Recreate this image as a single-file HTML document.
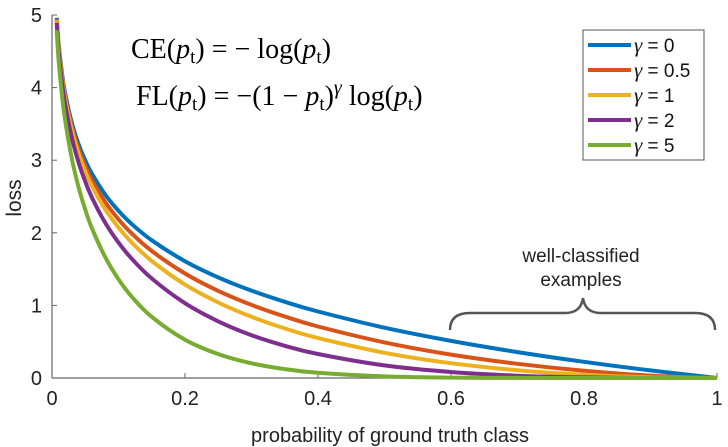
<!DOCTYPE html>
<html><head><meta charset="utf-8"><style>
body{margin:0;background:#fff;}
svg{display:block;font-family:"Liberation Sans",sans-serif;}
.eq{font-family:"Liberation Serif",serif;font-size:28px;fill:#000;}
</style></head><body>
<svg id="chart" width="728" height="447" viewBox="0 0 728 447">
<g id="axes"></g>
<g id="series"></g>
<text class="eq" x="131" y="58">CE(<tspan font-style="italic">p</tspan><tspan font-size="19" dy="5">t</tspan><tspan dy="-5">) = − log(</tspan><tspan font-style="italic">p</tspan><tspan font-size="19" dy="5">t</tspan><tspan dy="-5">)</tspan></text>
<text class="eq" x="136" y="105">FL(<tspan font-style="italic">p</tspan><tspan font-size="19" dy="5">t</tspan><tspan dy="-5">) = −(1 − </tspan><tspan font-style="italic">p</tspan><tspan font-size="19" dy="5">t</tspan><tspan dy="-5">)</tspan><tspan font-style="italic" font-size="20" dy="-11">γ</tspan><tspan dy="11"> log(</tspan><tspan font-style="italic">p</tspan><tspan font-size="19" dy="5">t</tspan><tspan dy="-5">)</tspan></text>
<g>
<text x="581" y="262" font-size="19" text-anchor="middle" fill="#222">well-classified</text>
<text x="581" y="286" font-size="19" text-anchor="middle" fill="#222">examples</text>
<path d="M450 330 Q450 313 470 313 L565 313 Q581 313 583 298 Q585 313 601 313 L695 313 Q715 313 715 330" fill="none" stroke="#555" stroke-width="2.5"/>
</g>
<g id="legend"></g>
</svg>
<script>
const pValues=[0.007,0.01,0.015,0.02,0.03,0.04,0.05,0.06,0.08,0.1,0.12,0.15,0.2,0.25,0.3,0.35,0.4,0.5,0.6,0.7,0.8,0.9,1.0];
const lossG0=[4.962,4.605,4.200,3.912,3.507,3.219,2.996,2.813,2.526,2.303,2.120,1.897,1.609,1.386,1.204,1.050,0.916,0.693,0.511,0.357,0.223,0.105,0];
const lossG05=[4.945,4.582,4.168,3.873,3.454,3.154,2.920,2.727,2.423,2.185,1.989,1.749,1.439,1.200,1.007,0.847,0.710,0.490,0.323,0.196,0.100,0.033,0];
const lossG1=[4.927,4.559,4.137,3.834,3.402,3.090,2.846,2.644,2.324,2.073,1.866,1.612,1.287,1.040,0.843,0.683,0.550,0.347,0.204,0.107,0.045,0.011,0];
const lossG2=[4.893,4.513,4.075,3.757,3.300,2.967,2.704,2.486,2.138,1.865,1.642,1.371,1.030,0.780,0.590,0.444,0.330,0.173,0.082,0.032,0.009,0.001,0];
const lossG5=[4.791,4.379,3.893,3.536,3.011,2.625,2.318,2.064,1.665,1.360,1.119,0.842,0.527,0.329,0.202,0.122,0.071,0.022,0.005,0.001,0,0,0];
const seriesLabels=["0","0.5","1","2","5"];
const xTicks=["0","0.2","0.4","0.6","0.8","1"];
const yTicks=["0","1","2","3","4","5"];
const NS="http://www.w3.org/2000/svg";
const X0=52,X1=717,Y0=378,Y1=15;
const xs=v=>X0+(X1-X0)*v, ys=v=>Y0-(Y0-Y1)*v/5;
function mk(t,a,p){const e=document.createElementNS(NS,t);for(const k in a)e.setAttribute(k,a[k]);p.appendChild(e);return e;}
function smooth(P){let d='M'+P[0][0].toFixed(1)+' '+P[0][1].toFixed(1);
 for(let i=0;i<P.length-1;i++){const p0=P[Math.max(i-1,0)],p1=P[i],p2=P[i+1],p3=P[Math.min(i+2,P.length-1)];
  const c1=[p1[0]+(p2[0]-p0[0])/6,p1[1]+(p2[1]-p0[1])/6],c2=[p2[0]-(p3[0]-p1[0])/6,p2[1]-(p3[1]-p1[1])/6];
  d+=' C'+c1.map(v=>v.toFixed(1)).join(' ')+' '+c2.map(v=>v.toFixed(1)).join(' ')+' '+p2.map(v=>v.toFixed(1)).join(' ');}
 return d;}
const axes=document.getElementById('axes');
let l=mk('line',{x1:X0,y1:Y0,x2:X1,y2:Y0,stroke:'#666','stroke-width':1.2},axes);


l=mk('line',{x1:X0,y1:Y0,x2:X0,y2:Y1,stroke:'#666','stroke-width':1.2},axes);


xTicks.forEach(t=>{const v=parseFloat(t);
 const tk=mk('line',{x1:xs(v),y1:Y0,x2:xs(v),y2:Y0-5,stroke:'#666'},axes);
 
 
 const e=mk('text',{x:xs(v),y:Y0+27,'font-size':20,'text-anchor':'middle',fill:'#222'},axes);e.textContent=t;
 
 });
yTicks.forEach(t=>{const v=parseFloat(t);
 const tk=mk('line',{x1:X0,y1:ys(v),x2:X0+5,y2:ys(v),stroke:'#666'},axes);
 
 
 const e=mk('text',{x:X0-10,y:ys(v)+7,'font-size':20,'text-anchor':'end',fill:'#222'},axes);e.textContent=t;
 
 });
let e=mk('text',{x:390,y:442,'font-size':20,'text-anchor':'middle',fill:'#222'},axes);e.textContent='probability of ground truth class';


e=mk('text',{x:0,y:0,'font-size':21,'text-anchor':'middle',fill:'#222',transform:'translate(21,198) rotate(-90)'},axes);e.textContent='loss';


const data=[lossG0,lossG05,lossG1,lossG2,lossG5];
const colors=['#0072BD','#D95319','#EDB120','#7E2F8E','#77AC30'];
const sg=document.getElementById('series');
data.forEach((arr,i)=>{
 const P=arr.map((v,j)=>[xs(pValues[j]),ys(v)]);
 const p=mk('path',{d:smooth(P),fill:'none',stroke:colors[i],'stroke-width':4,'stroke-linejoin':'round'},sg);
 
 
});
const lg=document.getElementById('legend');
const box=mk('rect',{x:583,y:30,width:121,height:130,fill:'#fff',stroke:'#555','stroke-width':1},lg);


seriesLabels.forEach((s,i)=>{const y=45+i*25;
 const g=mk('g',{},lg);
 
 
 mk('line',{x1:588,y1:y,x2:631,y2:y,stroke:colors[i],'stroke-width':4},g);
 const t=mk('text',{x:634,y:y+7,'font-size':19,fill:'#111'},g);
 const gm=mk('tspan',{'font-family':'Liberation Serif, serif','font-style':'italic','font-size':21},t);gm.textContent='γ';
 const rest=mk('tspan',{},t);rest.textContent=' = '+s;});
</script>
</body></html>
